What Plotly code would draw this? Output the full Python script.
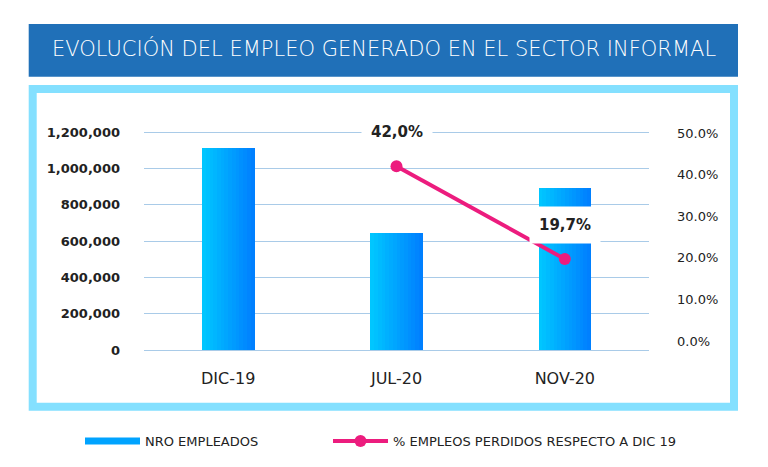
import plotly.graph_objects as go

# ---- data ----
categories = ["DIC-19", "JUL-20", "NOV-20"]
empleados = [1110000, 644000, 891000]
perdidos_pct = [None, 42.0, 19.7]
left_ticks = [0, 200000, 400000, 600000, 800000, 1000000, 1200000]
right_ticks = [0, 10, 20, 30, 40, 50]

title_text = "EVOLUCIÓN DEL EMPLEO GENERADO EN EL SECTOR INFORMAL"
bar_name = "NRO EMPLEADOS"
line_name = "% EMPLEOS PERDIDOS RESPECTO A DIC 19"

# ---- styles ----
OFF = 8  # page body margin
W, H = 768 - OFF, 467 - OFF
ML, MR, MT, MB = 136, 119, 122, 115
PW, PH = W - ML - MR, H - MT - MB
FONT = "DejaVu Sans"
TXT = "#222222"
PINK = "#EC1C7E"
GRID = "#A9CBE8"
CYAN = "#84E0FF"
TITLE_BG = "#2070B8"
c_left = (0x00, 0xC6, 0xFF)
c_right = (0x00, 0x80, 0xFF)
bar_w = 0.31
n_slices = 14
ypad = 11009


def px_x(x):
    return (x - OFF - ML) / PW


def px_y(y):
    return (H - MB - (y - OFF)) / PH


def mix(t):
    r = [round(a + (b - a) * t) for a, b in zip(c_left, c_right)]
    return "rgb(%d,%d,%d)" % tuple(r)


fig = go.Figure()

# gradient bars as thin slices of the same data
sw = bar_w / n_slices
for i in range(n_slices):
    fig.add_trace(go.Bar(
        x=categories, y=empleados,
        width=[sw * 1.08] * len(categories),
        offset=[-bar_w / 2 + i * sw] * len(categories),
        marker=dict(color=mix(i / (n_slices - 1)), line=dict(width=0)),
        showlegend=False, legendgroup="emp", hoverinfo="skip",
        yaxis="y",
    ))

# legend entry for bars
fig.add_trace(go.Scatter(
    x=[None], y=[None], mode="lines", name=bar_name, legendgroup="emp",
    line=dict(color="#00A3FF", width=7), yaxis="y", legend="legend",
))

fig.add_trace(go.Scatter(
    x=categories, y=perdidos_pct, mode="lines+markers", name=line_name,
    line=dict(color=PINK, width=4), marker=dict(color=PINK, size=12),
    yaxis="y2", legend="legend2",
))

# value labels
for c, v in zip(categories, perdidos_pct):
    if v is None:
        continue
    fig.add_annotation(
        x=c, y=v, xref="x", yref="y2", yshift=34, showarrow=False,
        text="<b>%s%%</b>" % ("%.1f" % v).replace(".", ","),
        font=dict(family=FONT, size=15, color=TXT),
        bgcolor="white", width=68, height=34,
    )

# title box & frame
shapes = [
    dict(type="rect", xref="paper", yref="paper", layer="below",
         x0=px_x(28.7), x1=px_x(738), y0=px_y(76.7), y1=px_y(24),
         fillcolor=TITLE_BG, line=dict(width=0)),
    dict(type="rect", xref="paper", yref="paper", layer="below",
         x0=px_x(32.7), x1=px_x(734), y0=px_y(406.7), y1=px_y(89),
         fillcolor="white", line=dict(color=CYAN, width=8)),
]
fig.add_annotation(
    x=px_x(384), y=px_y(49), xref="paper", yref="paper", showarrow=False,
    xanchor="center", yanchor="middle",
    text=title_text, font=dict(family=FONT, size=21, color="white", weight=300),
)

legend_common = dict(orientation="h", yanchor="middle", xanchor="left",
                     font=dict(family=FONT, size=13, color=TXT),
                     itemwidth=55, bgcolor="rgba(0,0,0,0)")

fig.update_layout(
    width=W, height=H,
    margin=dict(l=ML, r=MR, t=MT, b=MB, autoexpand=False),
    paper_bgcolor="white", plot_bgcolor="rgba(0,0,0,0)",
    barmode="overlay", bargap=0, shapes=shapes,
    font=dict(family=FONT, color=TXT),
    xaxis=dict(showgrid=False, showline=False, zeroline=False,
               tickfont=dict(family=FONT, size=16, color=TXT),
               ticklabelstandoff=15, range=[-0.5, 2.5]),
    yaxis=dict(range=[-ypad, 1200000 + ypad], tickvals=left_ticks,
               tickformat=",",
               showgrid=True, gridcolor=GRID, gridwidth=1, zeroline=False,
               showline=False,
               tickfont=dict(family=FONT, size=13, color=TXT, weight="bold"),
               ticklabelstandoff=23),
    yaxis2=dict(range=[-2.64, 50.72], tickvals=right_ticks,
                ticktext=["%.1f%%" % v for v in right_ticks],
                overlaying="y", side="right", showgrid=False,
                zeroline=False, showline=False,
                tickfont=dict(family=FONT, size=13, color=TXT),
                ticklabelstandoff=27),
    legend=dict(x=px_x(80), y=px_y(441), **legend_common),
    legend2=dict(x=px_x(328), y=px_y(441), **legend_common),
    hovermode=False,
)

fig.write_html("out.html")
